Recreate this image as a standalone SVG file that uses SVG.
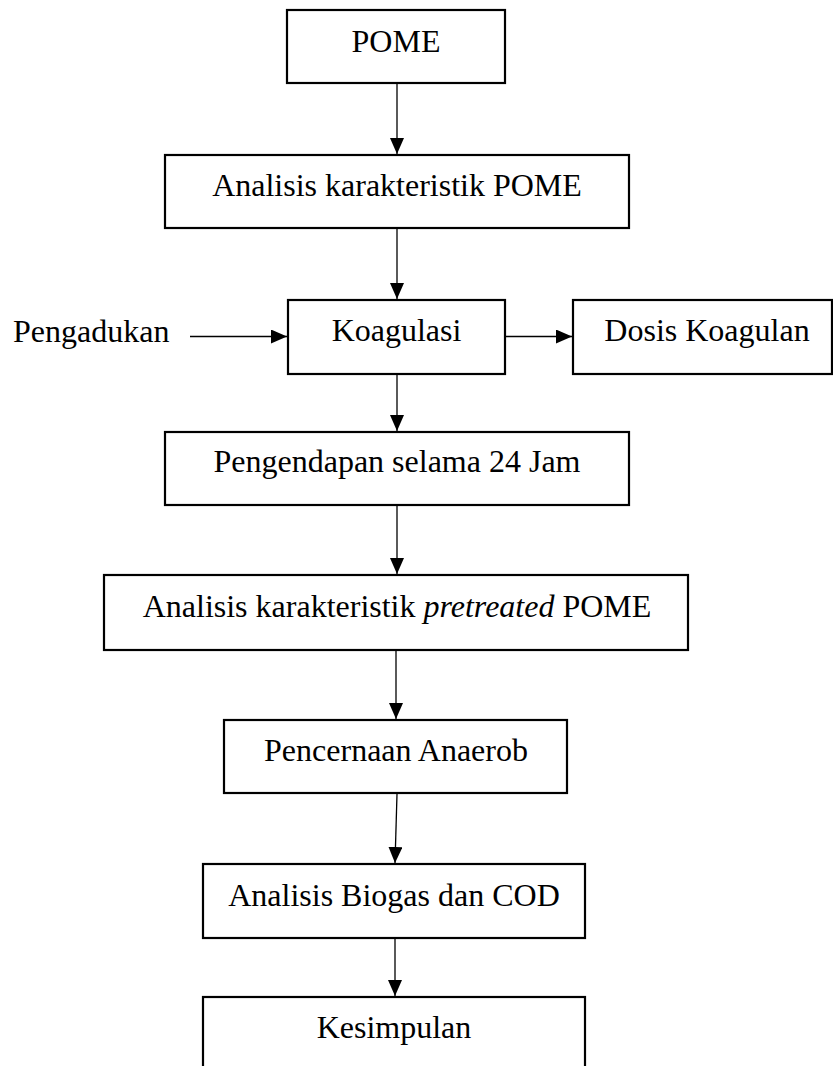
<svg xmlns="http://www.w3.org/2000/svg" width="833" height="1066" viewBox="0 0 833 1066">
<defs>
<style>
.box{fill:#fff;stroke:#000;stroke-width:2.2}
.lbl{font-family:"Liberation Serif","Times New Roman",serif;font-size:32px;fill:#000;text-anchor:middle}
.lft{text-anchor:start}
.con{stroke:#000;stroke-width:1.3;fill:none;marker-end:url(#ah)}
</style>
<marker id="ah" markerUnits="userSpaceOnUse" markerWidth="16" markerHeight="14" refX="16" refY="7" orient="auto">
<path d="M0,0 L16,7 L0,14 z" fill="#000"/>
</marker>
</defs>
<rect width="833" height="1066" fill="#fff"/>
<g id="connectors">
<line class="con" x1="397" y1="84" x2="397" y2="154"/>
<line class="con" x1="397" y1="229" x2="397" y2="299"/>
<line class="con" x1="190" y1="336.5" x2="287" y2="336.5"/>
<line class="con" x1="506" y1="336.5" x2="572" y2="336.5"/>
<line class="con" x1="397" y1="375" x2="397" y2="431"/>
<line class="con" x1="397" y1="506" x2="397" y2="574"/>
<line class="con" x1="396" y1="651" x2="396" y2="719"/>
<line class="con" x1="397" y1="794" x2="395" y2="863"/>
<line class="con" x1="395" y1="939" x2="395" y2="996"/>
</g>
<g id="pome">
<rect class="box" x="287" y="10" width="218" height="73"/>
<text class="lbl" x="396" y="52">POME</text>
</g>
<g id="analisis">
<rect class="box" x="165" y="155" width="464" height="73"/>
<text class="lbl" x="397" y="196">Analisis karakteristik POME</text>
</g>
<g id="pengadukan">
<text class="lbl lft" x="13" y="342">Pengadukan</text>
</g>
<g id="koagulasi">
<rect class="box" x="288" y="300" width="217" height="74"/>
<text class="lbl" x="396.5" y="341">Koagulasi</text>
</g>
<g id="dosis">
<rect class="box" x="573" y="300" width="259" height="74"/>
<text class="lbl" x="707" y="341">Dosis Koagulan</text>
</g>
<g id="pengendapan">
<rect class="box" x="165" y="432" width="464" height="73"/>
<text class="lbl" x="397" y="472">Pengendapan selama 24 Jam</text>
</g>
<g id="pretreated">
<rect class="box" x="104" y="575" width="584" height="75"/>
<text class="lbl" x="397" y="617">Analisis karakteristik <tspan font-style="italic">pretreated</tspan> POME</text>
</g>
<g id="pencernaan">
<rect class="box" x="224" y="720" width="343" height="73"/>
<text class="lbl" x="396" y="761">Pencernaan Anaerob</text>
</g>
<g id="biogas">
<rect class="box" x="203" y="864" width="382" height="74"/>
<text class="lbl" x="394" y="906">Analisis Biogas dan COD</text>
</g>
<g id="kesimpulan">
<rect class="box" x="203" y="997" width="382" height="90"/>
<text class="lbl" x="394" y="1038">Kesimpulan</text>
</g>
</svg>
